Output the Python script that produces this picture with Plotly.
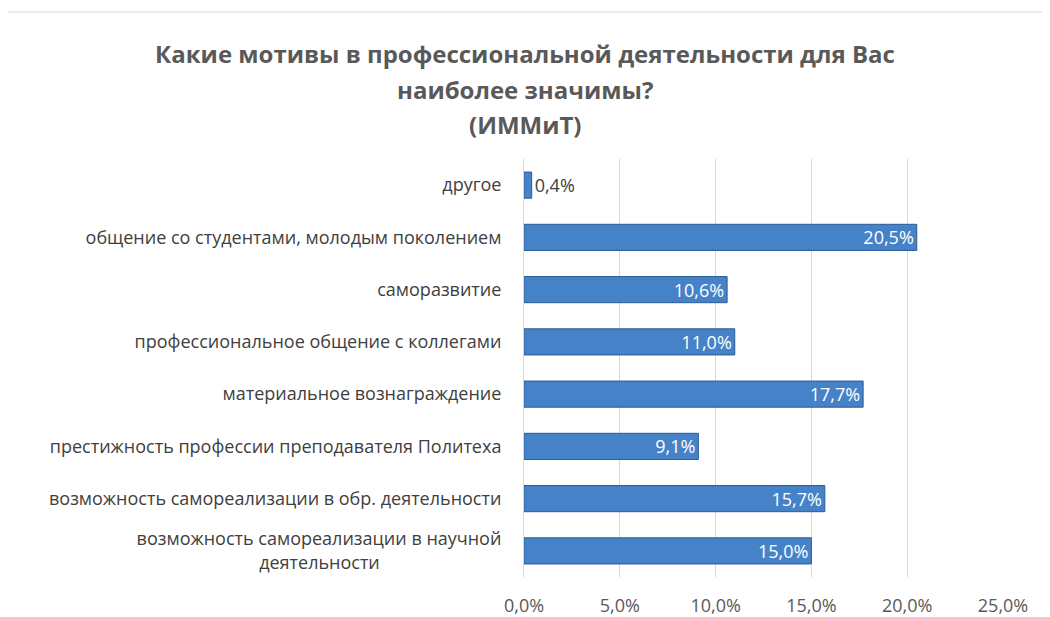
import plotly.graph_objects as go

NB = "\u00a0"
categories = [
    "возможность самореализации в научной<br>деятельности" + NB * 26,
    "возможность самореализации в обр. деятельности",
    "престижность профессии преподавателя Политеха",
    "материальное вознаграждение",
    "профессиональное общение с коллегами",
    "саморазвитие",
    "общение со студентами, молодым поколением",
    "другое",
]
values = [0.150, 0.157, 0.091, 0.177, 0.110, 0.106, 0.205, 0.004]
labels = ["15,0%", "15,7%", "9,1%", "17,7%", "11,0%", "10,6%", "20,5%", "0,4%"]
x_ticks = [0, 0.05, 0.10, 0.15, 0.20, 0.25]
x_tick_text = ["0,0%", "5,0%", "10,0%", "15,0%", "20,0%", "25,0%"]
title_lines = ["Какие мотивы в профессиональной деятельности для Вас",
               "наиболее значимы?", "(ИММиТ)"]

FONT = "Open Sans"
text_pos = ["inside" if v > 0.02 else "outside" for v in values]

W, H = 1042, 609
L, T, PW, PH = 516, 151, 479, 418

fig = go.Figure()
fig.add_trace(go.Bar(
    y=categories, x=values, orientation="h",
    marker=dict(color="#4682C8", line=dict(color="#2B5C96", width=1)),
    text=labels, textposition=text_pos, insidetextanchor="end",
    constraintext="none",
    outsidetextfont=dict(family=FONT, size=18, color="#404040"),
    insidetextfont=dict(family=FONT, size=18, color="white"),
    width=0.5, cliponaxis=False,
))

title_font = dict(family=FONT, size=24, color="#595959", weight="bold")
fig.update_layout(
    width=W, height=H,
    margin=dict(l=L, r=W - L - PW, t=T, b=H - T - PH, autoexpand=False),
    paper_bgcolor="white", plot_bgcolor="white",
    showlegend=False,
    title=dict(
        text=title_lines[0],
        x=517 / W, xref="container", xanchor="center",
        y=1 - 47 / H, yref="container", yanchor="middle",
        font=title_font, automargin=False,
    ),
    font=dict(family=FONT, size=18, color="#404040"),
    xaxis=dict(
        range=[0, 0.25], tickvals=x_ticks, ticktext=x_tick_text,
        showgrid=True, gridcolor="#D9D9D9", gridwidth=1,
        zeroline=False, showline=False, ticks="",
        tickfont=dict(family=FONT, size=18, color="#595959"),
        ticklabelstandoff=16, automargin=False,
    ),
    yaxis=dict(
        showgrid=False, zeroline=False, showline=True, linecolor="#D9D9D9",
        ticks="", ticklabelstandoff=18, automargin=False,
        tickfont=dict(family=FONT, size=18, color="#404040"),
    ),
)
for line, py in zip(title_lines[1:], [82, 117]):
    fig.add_annotation(
        text=line, xref="paper", yref="paper",
        x=(517 - L) / PW, y=(T + PH - py) / PH,
        xanchor="center", yanchor="middle", showarrow=False,
        font=title_font,
    )
fig.add_shape(type="rect", xref="paper", yref="paper",
              x0=(-4 - L) / PW, x1=(W + 20 - L) / PW,
              y0=(T + PH - (H + 20)) / PH, y1=(T + PH - 4) / PH,
              line=dict(color="#D9D9D9", width=1), layer="below")
fig.write_html("out.html")
